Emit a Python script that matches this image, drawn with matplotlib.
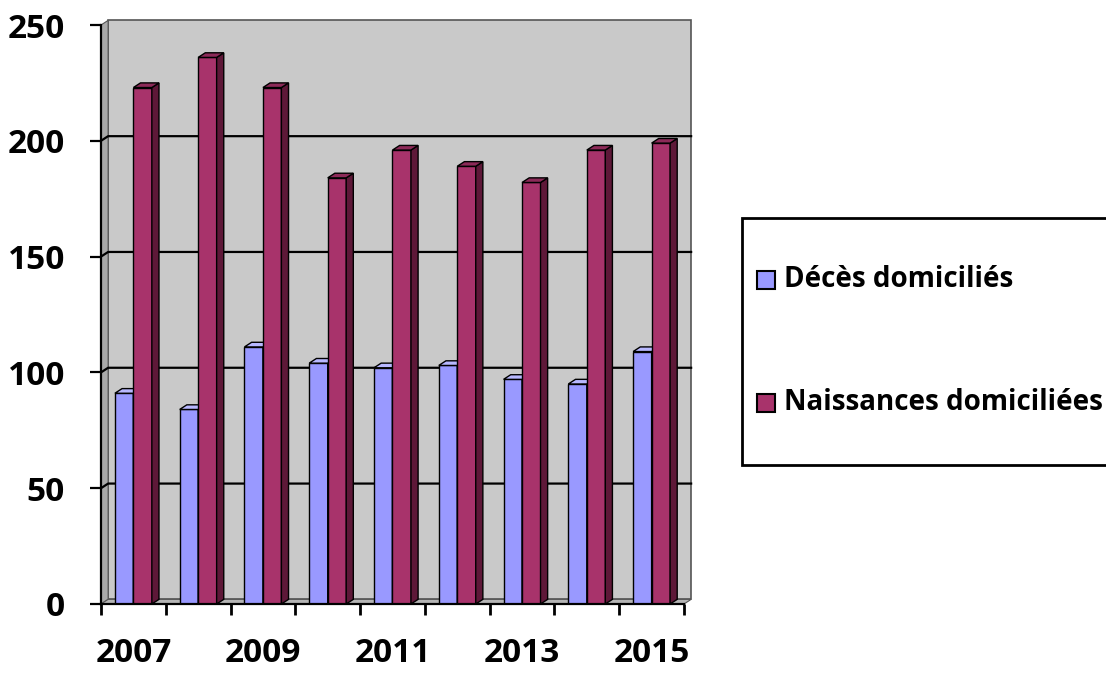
import numpy as np
import matplotlib.pyplot as plt
from matplotlib.patches import Polygon, Rectangle

# data
years = [2007, 2008, 2009, 2010, 2011, 2012, 2013, 2014, 2015]
deces = [91, 84, 111, 104, 102, 103, 97, 95, 109]            # Décès domiciliés
naissances = [223, 236, 223, 184, 196, 189, 182, 196, 199]    # Naissances domiciliées
yticks = [0, 50, 100, 150, 200, 250]
label_years = [2007, 2009, 2011, 2013, 2015]

# colours
c_deces = '#9999FF'
c_deces_side = '#6666C0'
c_deces_top = '#B8B8FF'
c_nais = '#A8336B'
c_nais_side = '#5E1838'
c_nais_top = '#8C2A58'
wall = '#C9C9C9'

plt.rcParams['font.family'] = ['Open Sans', 'DejaVu Sans']
plt.rcParams['font.weight'] = 'bold'

fig = plt.figure(figsize=(11.06, 6.75), dpi=100)
ax = fig.add_axes([101 / 1106, 71 / 675, 583 / 1106, 579 / 675])

n = len(years)
x = np.arange(n)
xmin, xmax = -0.5, n - 0.5
ymax = 250
dx, dy = 0.11, 2.0   # fake 3D depth
w = 0.285

# back wall, left wall, floor
ax.add_patch(Rectangle((xmin + dx, dy), xmax - xmin, ymax, facecolor=wall,
                       edgecolor='#555555', lw=1.2, clip_on=False, zorder=0))
ax.add_patch(Polygon([(xmin, 0), (xmin + dx, dy), (xmin + dx, ymax + dy), (xmin, ymax)],
                     closed=True, facecolor='#A9A9A9', edgecolor='#555555', lw=0.8,
                     clip_on=False, zorder=0))
ax.add_patch(Polygon([(xmin, 0), (xmin + dx, dy), (xmax + dx, dy), (xmax, 0)],
                     closed=True, facecolor='#B5B5B5', edgecolor='#555555', lw=0.8,
                     clip_on=False, zorder=0))

# gridlines on the back wall
for v in yticks[1:-1]:
    ax.plot([xmin, xmin + dx, xmax + dx], [v, v + dy, v + dy], color='black',
            lw=1.6, zorder=1, clip_on=False)


def bar3d(xs, vals, color, side, top):
    ax.bar(xs, vals, width=w, align='edge', color=color, edgecolor='black',
           lw=1.0, zorder=3)
    for xl, v in zip(xs, vals):
        xr = xl + w
        ax.add_patch(Polygon([(xr, 0), (xr + dx, dy), (xr + dx, v + dy), (xr, v)],
                             closed=True, facecolor=side, edgecolor='black',
                             lw=1.0, zorder=3, clip_on=False))
        ax.add_patch(Polygon([(xl, v), (xl + dx, v + dy), (xr + dx, v + dy), (xr, v)],
                             closed=True, facecolor=top, edgecolor='black',
                             lw=1.0, zorder=3, clip_on=False))


bar3d(x - w, deces, c_deces, c_deces_side, c_deces_top)
bar3d(x, naissances, c_nais, c_nais_side, c_nais_top)

ax.set_xlim(xmin, xmax)
ax.set_ylim(0, ymax)
ax.set_facecolor('none')
for s in ['top', 'right']:
    ax.spines[s].set_visible(False)
for s in ['left', 'bottom']:
    ax.spines[s].set_linewidth(1.6)
    ax.spines[s].set_zorder(5)

ax.set_yticks(yticks)
ax.set_yticklabels([str(v) for v in yticks], fontsize=24, fontweight='bold')
ax.tick_params(axis='y', length=8, width=1.6, pad=18)

# boundary ticks without labels, year labels on every other category
ax.set_xticks(np.arange(xmin, xmax + 0.01, 1.0))
ax.set_xticklabels([])
ax.tick_params(axis='x', which='major', length=8, width=2)
ax.set_xticks([years.index(y) for y in label_years], minor=True)
ax.set_xticklabels([str(y) for y in label_years], minor=True, fontsize=24,
                   fontweight='bold')
ax.tick_params(axis='x', which='minor', length=0, pad=24)

# legend box, drawn by hand to match the Excel layout
fig.add_artist(Rectangle((742 / 1106, 1 - 465 / 675), 400 / 1106, 247 / 675,
                         transform=fig.transFigure, facecolor='white',
                         edgecolor='black', lw=2))
entries = [('Décès domiciliés', c_deces, 280), ('Naissances domiciliées', c_nais, 403)]
for lab, col, yc in entries:
    fig.add_artist(Rectangle((757 / 1106, 1 - (yc + 9) / 675), 18 / 1106, 18 / 675,
                             transform=fig.transFigure, facecolor=col,
                             edgecolor='black', lw=1.5))
    fig.text(784 / 1106, 1 - yc / 675, lab, fontsize=20, fontweight='bold',
             va='center', ha='left')

fig.savefig('out.png', dpi=100)
